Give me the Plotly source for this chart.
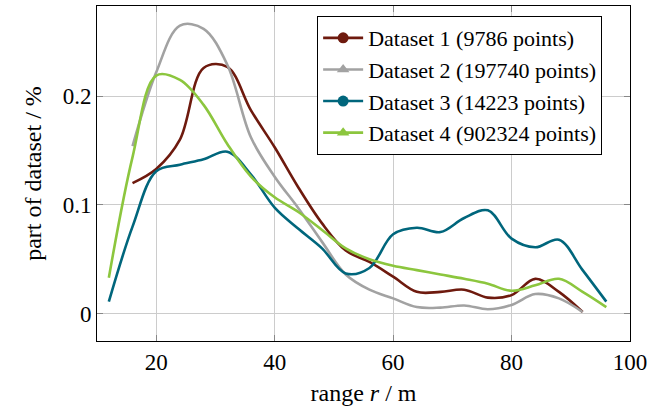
import plotly.graph_objects as go

# ---- data ----
x_d1 = [16, 20, 24, 28, 32, 36, 40, 44, 48, 52, 56, 60, 64, 68, 72, 76, 80, 84, 88, 92]
y_d1 = [0.120, 0.133, 0.160, 0.226, 0.227, 0.187, 0.153, 0.116, 0.083, 0.058, 0.0475,
        0.034, 0.020, 0.020, 0.022, 0.0147, 0.017, 0.032, 0.020, 0.0015]

x_d2 = [16, 20, 24, 28, 32, 36, 40, 44, 48, 52, 56, 60, 64, 68, 72, 76, 80, 84, 88, 92]
y_d2 = [0.154, 0.222, 0.265, 0.262, 0.229, 0.162, 0.126, 0.097, 0.066, 0.036, 0.022,
        0.014, 0.006, 0.0055, 0.0075, 0.004, 0.008, 0.018, 0.014, 0.0015]

x_d3 = [12, 16, 20, 24, 28, 32, 36, 40, 44, 48, 52, 56, 60, 64, 68, 72, 76, 80, 84, 88, 92, 96]
y_d3 = [0.011, 0.080, 0.131, 0.137, 0.142, 0.149, 0.128, 0.0975, 0.078, 0.060, 0.037,
        0.042, 0.073, 0.079, 0.075, 0.088, 0.095, 0.069, 0.061, 0.068, 0.040, 0.011]

x_d4 = [12, 16, 20, 24, 28, 32, 36, 40, 44, 48, 52, 56, 60, 64, 68, 72, 76, 80, 84, 88, 92, 96]
y_d4 = [0.033, 0.144, 0.219, 0.215, 0.192, 0.156, 0.126, 0.107, 0.0935, 0.077, 0.060,
        0.050, 0.044, 0.040, 0.036, 0.032, 0.0275, 0.021, 0.026, 0.032, 0.020, 0.006]

names = ["Dataset 1 (9786 points)", "Dataset 2 (197740 points)",
         "Dataset 3 (14223 points)", "Dataset 4 (902324 points)"]
colors = ["#6e1a0e", "#a2a2a2", "#00667c", "#8cc63e"]
symbols = ["circle", "triangle-up", "circle", "triangle-up"]
xs = [x_d1, x_d2, x_d3, x_d4]
ys = [y_d1, y_d2, y_d3, y_d4]

FONT = "Liberation Serif"

fig = go.Figure()
for x, y, c in zip(xs, ys, colors):
    fig.add_trace(go.Scatter(x=x, y=y, mode="lines",
                             line=dict(color=c, width=2.6, shape="spline", smoothing=1.0),
                             showlegend=False, hoverinfo="skip"))
for n, c, s in zip(names, colors, symbols):
    fig.add_trace(go.Scatter(x=[None], y=[None], mode="lines+markers", name=n,
                             line=dict(color=c, width=2.6),
                             marker=dict(color=c, symbol=s, size=11)))

axis_common = dict(showgrid=True, gridcolor="#cccccc", gridwidth=1,
                   showline=True, linecolor="black", linewidth=1, mirror="ticks",
                   ticks="inside", ticklen=6, tickcolor="#888888", tickwidth=1,
                   zeroline=False,
                   tickfont=dict(family=FONT, size=23, color="black"))

fig.update_layout(
    template="none",
    width=662, height=409,
    margin=dict(l=97, r=32, t=6, b=68),
    plot_bgcolor="white", paper_bgcolor="white",
    xaxis=dict(range=[10, 100], tickvals=[20, 40, 60, 80, 100],
               title=dict(text="range <i>r</i> / m", font=dict(family=FONT, size=24, color="black"),
                          standoff=10),
               **axis_common),
    yaxis=dict(range=[-0.0252, 0.283], tickvals=[0, 0.1, 0.2], ticktext=["0", "0.1", "0.2"],
               title=dict(text="part of dataset / %", font=dict(family=FONT, size=24, color="black"),
                          standoff=14),
               **axis_common),
    legend=dict(x=0.413, y=0.97, xanchor="left", yanchor="top",
                bgcolor="white", bordercolor="black", borderwidth=1,
                font=dict(family=FONT, size=22, color="black"),
                tracegroupgap=0, itemwidth=40),
)

fig.write_html("out.html")
